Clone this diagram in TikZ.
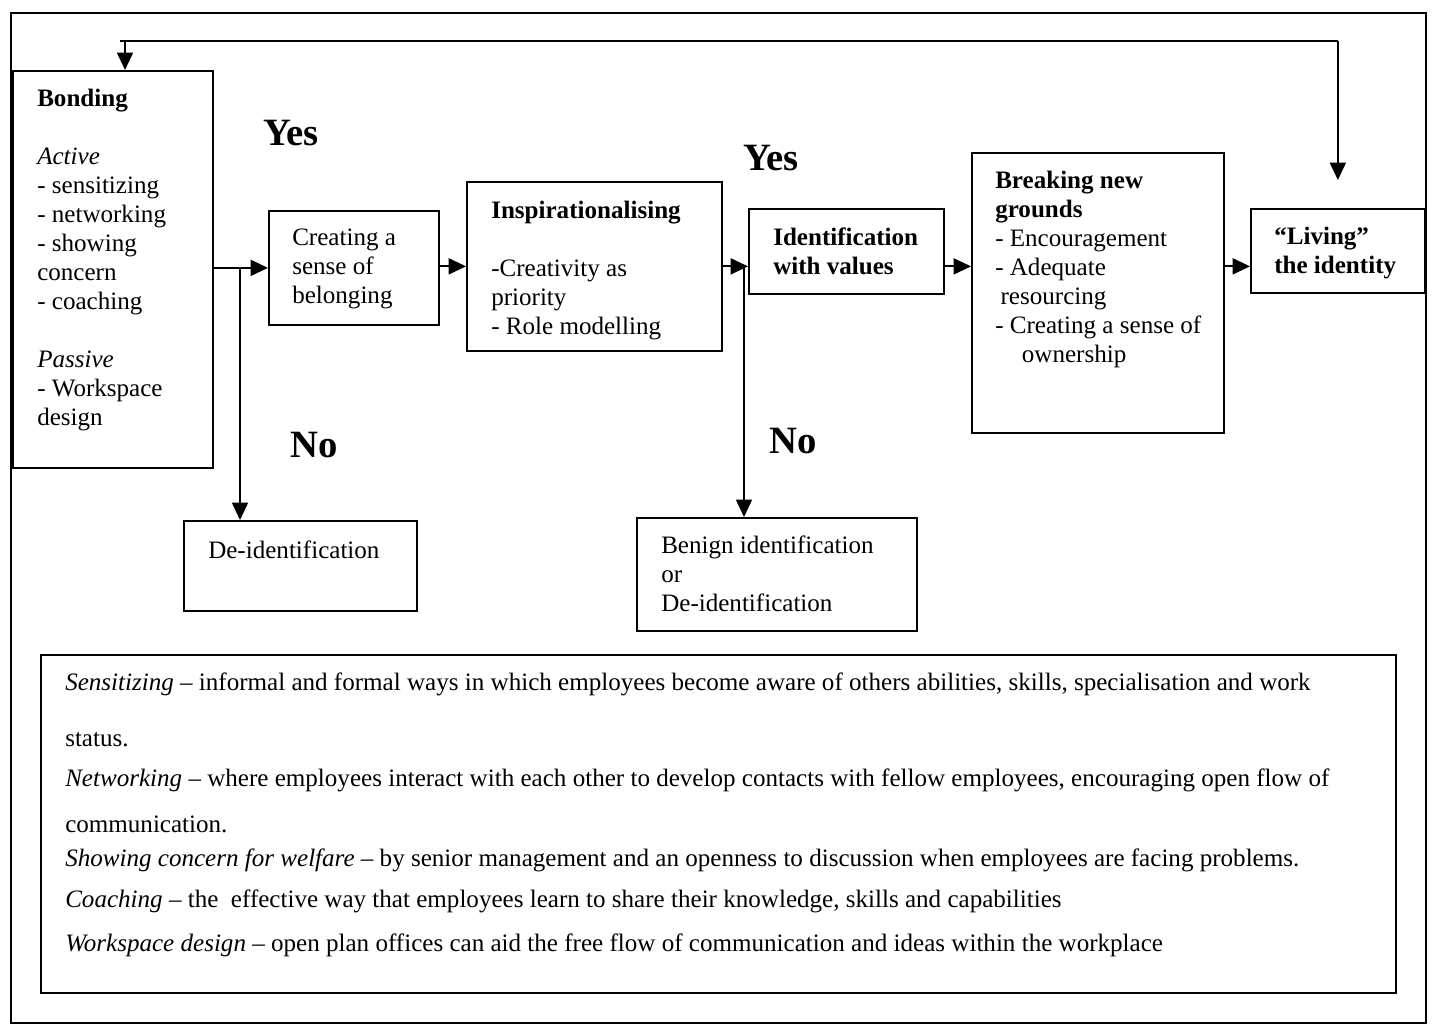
\documentclass[tikz,border=0pt]{standalone}
\usepackage{fontspec}
\setmainfont{Liberation Serif}
\newfontfamily\legendfont{Liberation Serif}
\usetikzlibrary{arrows.meta}
\begin{document}
\begin{tikzpicture}[x=0.75pt,y=-0.75pt,
  frame/.style={draw, line width=1.3pt, inner sep=0pt, anchor=north west},
  arr/.style={line width=1.3pt, -{Triangle[length=13pt,width=12pt]}},
  link/.style={line width=1.3pt},
  boxtext/.style={inner sep=0pt, anchor=north west, align=left,
    font=\fontsize{18.8}{21.75}\selectfont},
  yesno/.style={inner sep=0pt, font=\bfseries\fontsize{29}{31}\selectfont},
  legline/.style={inner sep=0pt, anchor=base west,
    font=\legendfont\fontsize{18.8}{21}\selectfont}]

\useasboundingbox (0,0) rectangle (1435,1034);

% outer frame
\node[frame, minimum width=1061.25pt, minimum height=757.5pt] (outer) at (10,12) {};

% process boxes
\node[frame, minimum width=150pt,    minimum height=297.75pt] (bond)   at (12,70)   {};
\node[frame, minimum width=127.5pt,  minimum height=85.5pt]   (belong) at (268,210) {};
\node[frame, minimum width=191.25pt, minimum height=126.75pt] (insp)   at (466,181) {};
\node[frame, minimum width=146.25pt, minimum height=63.75pt]  (ident)  at (748,208) {};
\node[frame, minimum width=189pt,    minimum height=210pt]    (brk)    at (971,152) {};
\node[frame, minimum width=130.5pt,  minimum height=63pt]     (live)   at (1250,208) {};
\node[frame, minimum width=174.75pt, minimum height=67.5pt]   (deid)   at (183,520) {};
\node[frame, minimum width=210pt,    minimum height=84.75pt]  (benign) at (636,517) {};
\node[frame, minimum width=1016.25pt,minimum height=253.5pt]  (legend) at (40,654)  {};

% box texts
\node[boxtext] (bondtxt) at (37,89) {\textbf{Bonding}\\[21.75pt]
  \textit{Active}\\- sensitizing\\- networking\\- showing\\concern\\- coaching\\[21.75pt]
  \textit{Passive}\\- Workspace\\design};
\node[boxtext] (belongtxt) at (292,229) {Creating a\\sense of\\belonging};
\node[boxtext] (insptxt) at (491,201) {\textbf{Inspirationalising}\\[21.75pt]
  -Creativity as\\priority\\- Role modelling};
\node[boxtext] (identtxt) at (773,228) {\textbf{Identification}\\\textbf{with values}};
\node[boxtext] (brktxt) at (995,171) {\textbf{Breaking new}\\\textbf{grounds}\\
  - Encouragement\\- Adequate\\\hspace*{4pt}resourcing\\- Creating a sense of\\
  \hspace*{20pt}ownership};
\node[boxtext] (livetxt) at (1274,227) {\textbf{“Living”}\\\textbf{the identity}};
\node[boxtext] (deidtxt) at (208,541) {De-identification};
\node[boxtext] (benigntxt) at (661,536) {Benign identification\\or\\De-identification};

% decision labels
\node[yesno] (yes1) at (291,133) {Yes};
\node[yesno] (yes2) at (771,158) {Yes};
\node[yesno] (no1)  at (314,445) {No};
\node[yesno] (no2)  at (793,441) {No};

% junctions
\coordinate (j1) at (240,267);
\coordinate (j2) at (744,265);
\coordinate (fbA) at (125,41);
\coordinate (fbL) at (120,41);

% main flow
\draw[arr] (bond.east |- belong.west) -- (belong.west);
\draw[arr] (j1) -- (j1 |- deid.north);
\draw[arr] (belong.east |- insp.east) -- (insp.west);
\draw[arr] (insp.east) -- (insp.east -| ident.west);
\draw[arr] (j2) -- (j2 |- benign.north);
\draw[arr] (insp.east -| ident.east) -- (insp.east -| brk.west);
\draw[arr] (insp.east -| brk.east) -- (insp.east -| live.west);

% feedback loop
\draw[link] (fbL) -- (fbL -| live.north);
\draw[arr, shorten >=21pt] (fbL -| live.north) -- (live.north);
\draw[arr] (fbA) -- (fbA |- bond.north);

% glossary
\node[legline] (l1) at (65,690) {\textit{Sensitizing} – informal and formal ways in which employees become aware of others abilities, skills, specialisation and work};
\node[legline] (l2) at (65,746) {status.};
\node[legline] (l3) at (65,786) {\textit{Networking} – where employees interact with each other to develop contacts with fellow employees, encouraging open flow of};
\node[legline] (l4) at (65,832) {communication.};
\node[legline] (l5) at (65,866) {\textit{Showing concern for welfare} – by senior management and an openness to discussion when employees are facing problems.};
\node[legline] (l6) at (65,907) {\textit{Coaching} – the\ \ effective way that employees learn to share their knowledge, skills and capabilities};
\node[legline] (l7) at (65,951) {\textit{Workspace design} – open plan offices can aid the free flow of communication and ideas within the workplace};
\end{tikzpicture}
\end{document}
